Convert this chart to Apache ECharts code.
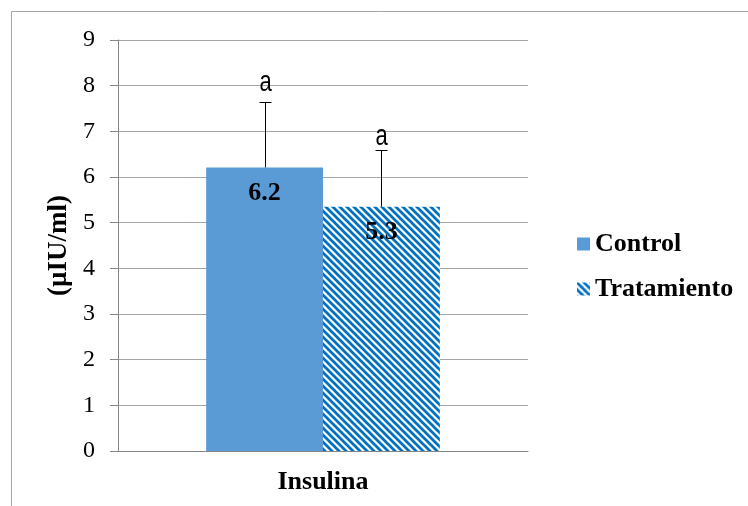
<!DOCTYPE html>
<html><head><meta charset="utf-8">
<script src="https://cdn.jsdelivr.net/npm/echarts@6/dist/echarts.min.js"></script>
<style>html,body{margin:0;padding:0;background:#fff}#c{width:748px;height:506px}</style>
</head><body><div id="c"></div>
<script>
const categories = ['Insulina'];
const seriesNames = ['Control', 'Tratamiento'];
const controlValues = [6.21];
const tratamientoValues = [5.35];
const controlErrors = [1.44];
const tratamientoErrors = [1.25];
const controlLabels = ['6.2'];
const tratamientoLabels = ['5.3'];
const sigLetters = ['a', 'a'];
const yTicks = [0, 9, 1];

function stripePattern() {
  const n = 7;
  const c = document.createElement('canvas');
  c.width = n; c.height = n;
  const g = c.getContext('2d');
  g.fillStyle = '#ffffff'; g.fillRect(0, 0, n, n);
  g.strokeStyle = '#0070C0'; g.lineWidth = 2.7;
  for (let k = -2; k <= 2; k++) {
    g.beginPath();
    g.moveTo(k * n - 1, -1);
    g.lineTo(k * n + n + 1, n + 1);
    g.stroke();
  }
  return c;
}
const pat = { image: stripePattern(), repeat: 'repeat' };
const serif = 'Liberation Serif';
const gap = 0.43;

function errItem(offsetSign, letterIdx, letterLift) {
  return function (params, api) {
    const i = api.value(0), v = api.value(1), e = api.value(2);
    const base = api.coord([i, v]);
    const top = api.coord([i, v + e]);
    const bw = api.size([1, 0])[0] * (1 - gap) / 2;
    const x = Math.round(base[0] + offsetSign * bw / 2) + 0.5;
    const ty = Math.round(top[1]) + 0.5;
    return {
      type: 'group',
      children: [
        { type: 'line', shape: { x1: x, y1: base[1], x2: x, y2: ty }, style: { stroke: '#000', lineWidth: 1 } },
        { type: 'line', shape: { x1: x - 6, y1: ty, x2: x + 6, y2: ty }, style: { stroke: '#000', lineWidth: 1 } },
        { type: 'text', x: x, y: ty - letterLift, scaleY: 1.35, originX: 0, originY: 0,
          style: { text: sigLetters[letterIdx], fill: '#000', font: '22px Liberation Sans', textAlign: 'center', textVerticalAlign: 'middle' } }
      ]
    };
  };
}

const chart = echarts.init(document.getElementById('c'));
chart.setOption({
  animation: false,
  graphic: [{ type: 'rect', shape: { x: 11.5, y: 11.5, width: 800, height: 600 }, style: { fill: 'none', stroke: '#a6a6a6', lineWidth: 1 }, z: -1 }],
  grid: { left: 118, top: 40, width: 410, height: 411 },
  legend: {
    orient: 'vertical', left: 572, top: 226, itemWidth: 13, itemHeight: 13, itemGap: 19,
    textStyle: { fontFamily: serif, fontWeight: 'bold', fontSize: 26, color: '#000' },
    data: seriesNames.map(n => ({ name: n, icon: 'rect' }))
  },
  xAxis: {
    type: 'category', data: categories,
    axisLine: { lineStyle: { color: '#868686' } },
    axisTick: { length: 7, lineStyle: { color: '#868686' } },
    axisLabel: { fontFamily: serif, fontWeight: 'bold', fontSize: 26, color: '#000', margin: 18 }
  },
  yAxis: {
    type: 'value', min: yTicks[0], max: yTicks[1], interval: yTicks[2],
    name: '(µIU/ml)', nameLocation: 'middle', nameGap: 38,
    nameTextStyle: { fontFamily: serif, fontWeight: 'bold', fontSize: 27, color: '#000' },
    axisLine: { show: true, lineStyle: { color: '#868686' } },
    axisTick: { show: true, length: 8, lineStyle: { color: '#868686' } },
    axisLabel: { fontFamily: serif, fontSize: 24, color: '#000', margin: 23 },
    splitLine: { lineStyle: { color: '#a6a6a6' } }
  },
  series: [
    { name: seriesNames[0], type: 'bar', data: controlValues, barGap: '0%', barCategoryGap: '43%',
      itemStyle: { color: '#5B9BD5' },
      label: { show: true, position: 'insideTop', distance: 13, formatter: p => controlLabels[p.dataIndex], fontFamily: serif, fontWeight: 'bold', fontSize: 26, color: '#000' } },
    { name: seriesNames[1], type: 'bar', data: tratamientoValues,
      itemStyle: { color: pat },
      label: { show: true, position: 'insideTop', distance: 13, formatter: p => tratamientoLabels[p.dataIndex], fontFamily: serif, fontWeight: 'bold', fontSize: 26, color: '#000' } },
    { type: 'custom', name: 'errC', data: categories.map((c, i) => [i, controlValues[i], controlErrors[i]]), renderItem: errItem(-1, 0, 20), z: 10, silent: true },
    { type: 'custom', name: 'errT', data: categories.map((c, i) => [i, tratamientoValues[i], tratamientoErrors[i]]), renderItem: errItem(1, 1, 14), z: 10, silent: true }
  ]
});
</script></body></html>
